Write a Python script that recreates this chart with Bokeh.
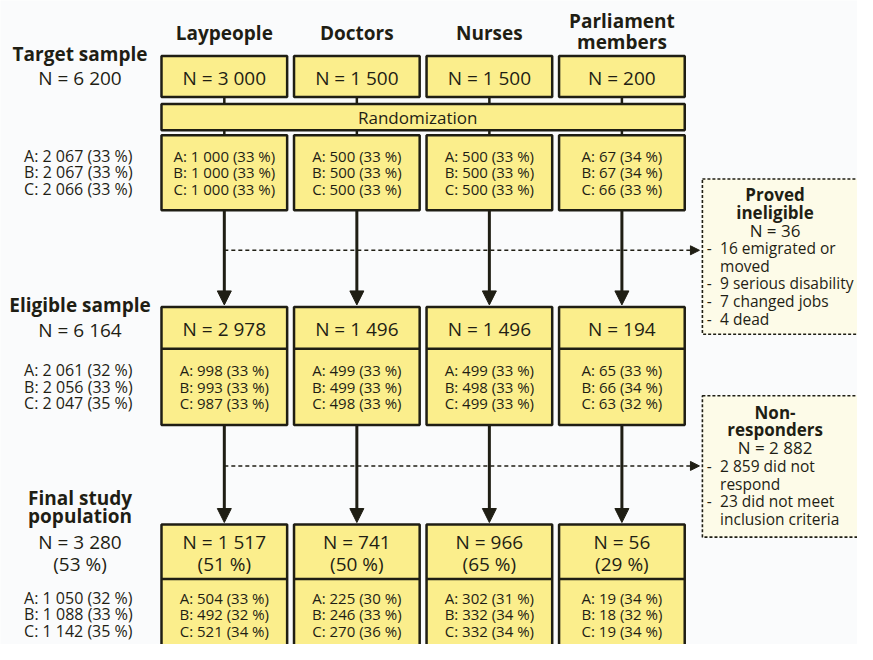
from bokeh.plotting import figure
from bokeh.models import Range1d, Arrow, NormalHead
from bokeh.core.properties import value
from bokeh.embed import file_html
from bokeh.resources import INLINE

# ---------------- data ----------------
groups = ["Laypeople", "Doctors", "Nurses", "Parliament members"]
group_label_lines = [["Laypeople"], ["Doctors"], ["Nurses"], ["Parliament", "members"]]
arms = ["A", "B", "C"]

target_n = [3000, 1500, 1500, 200]
target_arm_n = [[1000, 1000, 1000], [500, 500, 500], [500, 500, 500], [67, 67, 66]]
target_arm_pct = [[33, 33, 33], [33, 33, 33], [33, 33, 33], [34, 34, 33]]
target_total = 6200
target_total_arm_n = [2067, 2067, 2066]
target_total_arm_pct = [33, 33, 33]

eligible_n = [2978, 1496, 1496, 194]
eligible_arm_n = [[998, 993, 987], [499, 499, 498], [499, 498, 499], [65, 66, 63]]
eligible_arm_pct = [[33, 33, 33], [33, 33, 33], [33, 33, 33], [33, 34, 32]]
eligible_total = 6164
eligible_total_arm_n = [2061, 2056, 2047]
eligible_total_arm_pct = [32, 33, 35]

final_n = [1517, 741, 966, 56]
final_pct = [51, 50, 65, 29]
final_arm_n = [[504, 492, 521], [225, 246, 270], [302, 332, 332], [19, 18, 19]]
final_arm_pct = [[33, 32, 34], [30, 33, 36], [31, 34, 34], [34, 32, 34]]
final_total = 3280
final_total_pct = 53
final_total_arm_n = [1050, 1088, 1142]
final_total_arm_pct = [32, 33, 35]

ineligible_title = ["Proved", "ineligible"]
ineligible_total = 36
ineligible_counts = [16, 9, 7, 4]
ineligible_reasons = [["emigrated or", "moved"], ["serious disability"], ["changed jobs"], ["dead"]]

nonresp_title = ["Non-", "responders"]
nonresp_total = 2882
nonresp_counts = [2859, 23]
nonresp_reasons = [["did not", "respond"], ["did not meet", "inclusion criteria"]]

row_labels = {"target": ["Target sample"], "eligible": ["Eligible sample"],
              "final": ["Final study", "population"]}
rand_label = "Randomization"


def fmt(n):
    return f"{n:,}".replace(",", " ")


def arm_line(a, n, pct):
    return f"{a}: {fmt(n)} ({pct} %)"


# ---------------- style ----------------
FONT = "Open Sans"
INK = "#1f1e14"
YELLOW = "#fbee8c"
CREAM = "#fdfbe8"
BG = "#fafbfc"

N_SIZE = "19px"
ARM_SIZE = "15px"
LEFT_ARM_SIZE = "16px"
HEAD_SIZE = "19px"
SIDE_HEAD = "17px"
SIDE_TXT = "15.5px"

p = figure(width=857, height=644, x_range=Range1d(0, 873), y_range=Range1d(660, 0),
           output_backend="svg", toolbar_location=None, min_border=0,
           background_fill_color=BG, border_fill_color=BG)
p.axis.visible = False
p.grid.visible = False
p.outline_line_color = None

# layout
col_x0, col_step, box_w = 164, 135, 128
lefts = [col_x0 + i * col_step for i in range(4)]
rights = [l + box_w for l in lefts]
centers = [l + box_w / 2 for l in lefts]
left_cx = 81
arm_x_left = 24

texts = []  # (x, y, text, size, bold, align)


def T(x, y, t, size, bold=False, align="center"):
    texts.append((x, y, t, size, bold, align))


def boxes(tops, bottoms, ls=lefts, rs=rights, fill=YELLOW, dash="solid", lw=2.5):
    p.quad(left=ls, right=rs, top=tops, bottom=bottoms, fill_color=fill,
           line_color=INK, line_width=lw, line_dash=dash)


# headers
for c, lines in zip(centers, group_label_lines):
    if len(lines) == 1:
        T(c, 33, lines[0], HEAD_SIZE, True)
    else:
        T(c, 21, lines[0], HEAD_SIZE, True)
        T(c, 43, lines[1], HEAD_SIZE, True)

# ---- target row
boxes([57] * 4, [99] * 4)
for c, n in zip(centers, target_n):
    T(c, 79, f"N = {fmt(n)}", N_SIZE)
# connectors
p.segment(x0=centers, y0=[99] * 4, x1=centers, y1=[106] * 4, line_color=INK, line_width=2.5)
p.segment(x0=centers, y0=[133] * 4, x1=centers, y1=[138] * 4, line_color=INK, line_width=2.5)
boxes([106], [133], ls=[lefts[0]], rs=[rights[-1]])
T(425, 120, rand_label, "17px")
boxes([138] * 4, [215] * 4)
arm_ys_t = [159, 176, 193]
for c, ns, ps in zip(centers, target_arm_n, target_arm_pct):
    for a, n, pc, y in zip(arms, ns, ps, arm_ys_t):
        T(c, y, arm_line(a, n, pc), ARM_SIZE)
T(left_cx, 55, row_labels["target"][0], HEAD_SIZE, True)
T(left_cx, 79, f"N = {fmt(target_total)}", N_SIZE)
for a, n, pc, y in zip(arms, target_total_arm_n, target_total_arm_pct, arm_ys_t):
    T(arm_x_left, y, arm_line(a, n, pc), LEFT_ARM_SIZE, align="left")

# ---- arrows target -> eligible
for c in centers:
    p.add_layout(Arrow(end=NormalHead(size=14, fill_color=INK, line_color=INK, line_width=1),
                       x_start=c, y_start=215, x_end=c, y_end=312,
                       line_color=INK, line_width=3))
p.add_layout(Arrow(end=NormalHead(size=9, fill_color=INK, line_color=INK, line_width=1),
                   x_start=centers[0], y_start=256, x_end=712, y_end=256,
                   line_color=INK, line_width=1.5, line_dash="4 3"))

# ---- eligible row
boxes([314] * 4, [435] * 4)
p.segment(x0=lefts, y0=[357] * 4, x1=rights, y1=[357] * 4, line_color=INK, line_width=2.5)
for c, n in zip(centers, eligible_n):
    T(c, 337, f"N = {fmt(n)}", N_SIZE)
arm_ys_e = [379, 396, 413]
for c, ns, ps in zip(centers, eligible_arm_n, eligible_arm_pct):
    for a, n, pc, y in zip(arms, ns, ps, arm_ys_e):
        T(c, y, arm_line(a, n, pc), ARM_SIZE)
T(left_cx, 312, row_labels["eligible"][0], HEAD_SIZE, True)
T(left_cx, 338, f"N = {fmt(eligible_total)}", N_SIZE)
for a, n, pc, y in zip(arms, eligible_total_arm_n, eligible_total_arm_pct, arm_ys_e):
    T(arm_x_left, y, arm_line(a, n, pc), LEFT_ARM_SIZE, align="left")

# ---- arrows eligible -> final
for c in centers:
    p.add_layout(Arrow(end=NormalHead(size=14, fill_color=INK, line_color=INK, line_width=1),
                       x_start=c, y_start=435, x_end=c, y_end=535,
                       line_color=INK, line_width=3))
p.add_layout(Arrow(end=NormalHead(size=9, fill_color=INK, line_color=INK, line_width=1),
                   x_start=centers[0], y_start=477, x_end=712, y_end=477,
                   line_color=INK, line_width=1.5, line_dash="4 3"))

# ---- final row
boxes([537] * 4, [672] * 4)
p.segment(x0=lefts, y0=[593] * 4, x1=rights, y1=[593] * 4, line_color=INK, line_width=2.5)
for c, n, pc in zip(centers, final_n, final_pct):
    T(c, 555, f"N = {fmt(n)}", N_SIZE)
    T(c, 577, f"({pc} %)", N_SIZE)
arm_ys_f = [612, 629, 646]
for c, ns, ps in zip(centers, final_arm_n, final_arm_pct):
    for a, n, pc, y in zip(arms, ns, ps, arm_ys_f):
        T(c, y, arm_line(a, n, pc), ARM_SIZE)
T(left_cx, 510, row_labels["final"][0], HEAD_SIZE, True)
T(left_cx, 528, row_labels["final"][1], HEAD_SIZE, True)
T(left_cx, 555, f"N = {fmt(final_total)}", N_SIZE)
T(left_cx, 577, f"({final_total_pct} %)", N_SIZE)
for a, n, pc, y in zip(arms, final_total_arm_n, final_total_arm_pct, arm_ys_f):
    T(arm_x_left, y, arm_line(a, n, pc), LEFT_ARM_SIZE, align="left")

# ---- side boxes
side_cx, dash_x, reason_x = 789, 722, 733
boxes([183], [342], ls=[715], rs=[890], fill=CREAM, dash="3 2", lw=1.6)
T(side_cx, 199, ineligible_title[0], SIDE_HEAD, True)
T(side_cx, 217, ineligible_title[1], SIDE_HEAD, True)
T(side_cx, 236, f"N = {ineligible_total}", SIDE_HEAD)
y = 254
for cnt, lines in zip(ineligible_counts, ineligible_reasons):
    T(dash_x, y, "-", SIDE_TXT)
    T(reason_x, y, f"{fmt(cnt)} {lines[0]}", SIDE_TXT, align="left")
    y += 18
    for extra in lines[1:]:
        T(reason_x, y, extra, SIDE_TXT, align="left")
        y += 18

boxes([405], [550], ls=[715], rs=[890], fill=CREAM, dash="3 2", lw=1.6)
T(side_cx, 422, nonresp_title[0], SIDE_HEAD, True)
T(side_cx, 440, nonresp_title[1], SIDE_HEAD, True)
T(side_cx, 458, f"N = {fmt(nonresp_total)}", SIDE_HEAD)
y = 477
for cnt, lines in zip(nonresp_counts, nonresp_reasons):
    T(dash_x, y, "-", SIDE_TXT)
    T(reason_x, y, f"{fmt(cnt)} {lines[0]}", SIDE_TXT, align="left")
    y += 18
    for extra in lines[1:]:
        T(reason_x, y, extra, SIDE_TXT, align="left")
        y += 18

# draw texts grouped by style
styles = {}
for x, yy, t, size, bold, align in texts:
    styles.setdefault((size, bold, align), []).append((x, yy, t))
for (size, bold, align), items in styles.items():
    p.text(x=[i[0] for i in items], y=[i[1] for i in items], text=[i[2] for i in items],
           text_font=value(FONT), text_font_size=value(size),
           text_font_style="bold" if bold else "normal",
           text_align=align, text_baseline="middle", text_color=INK)

open("out.html", "w").write(file_html(p, INLINE))
